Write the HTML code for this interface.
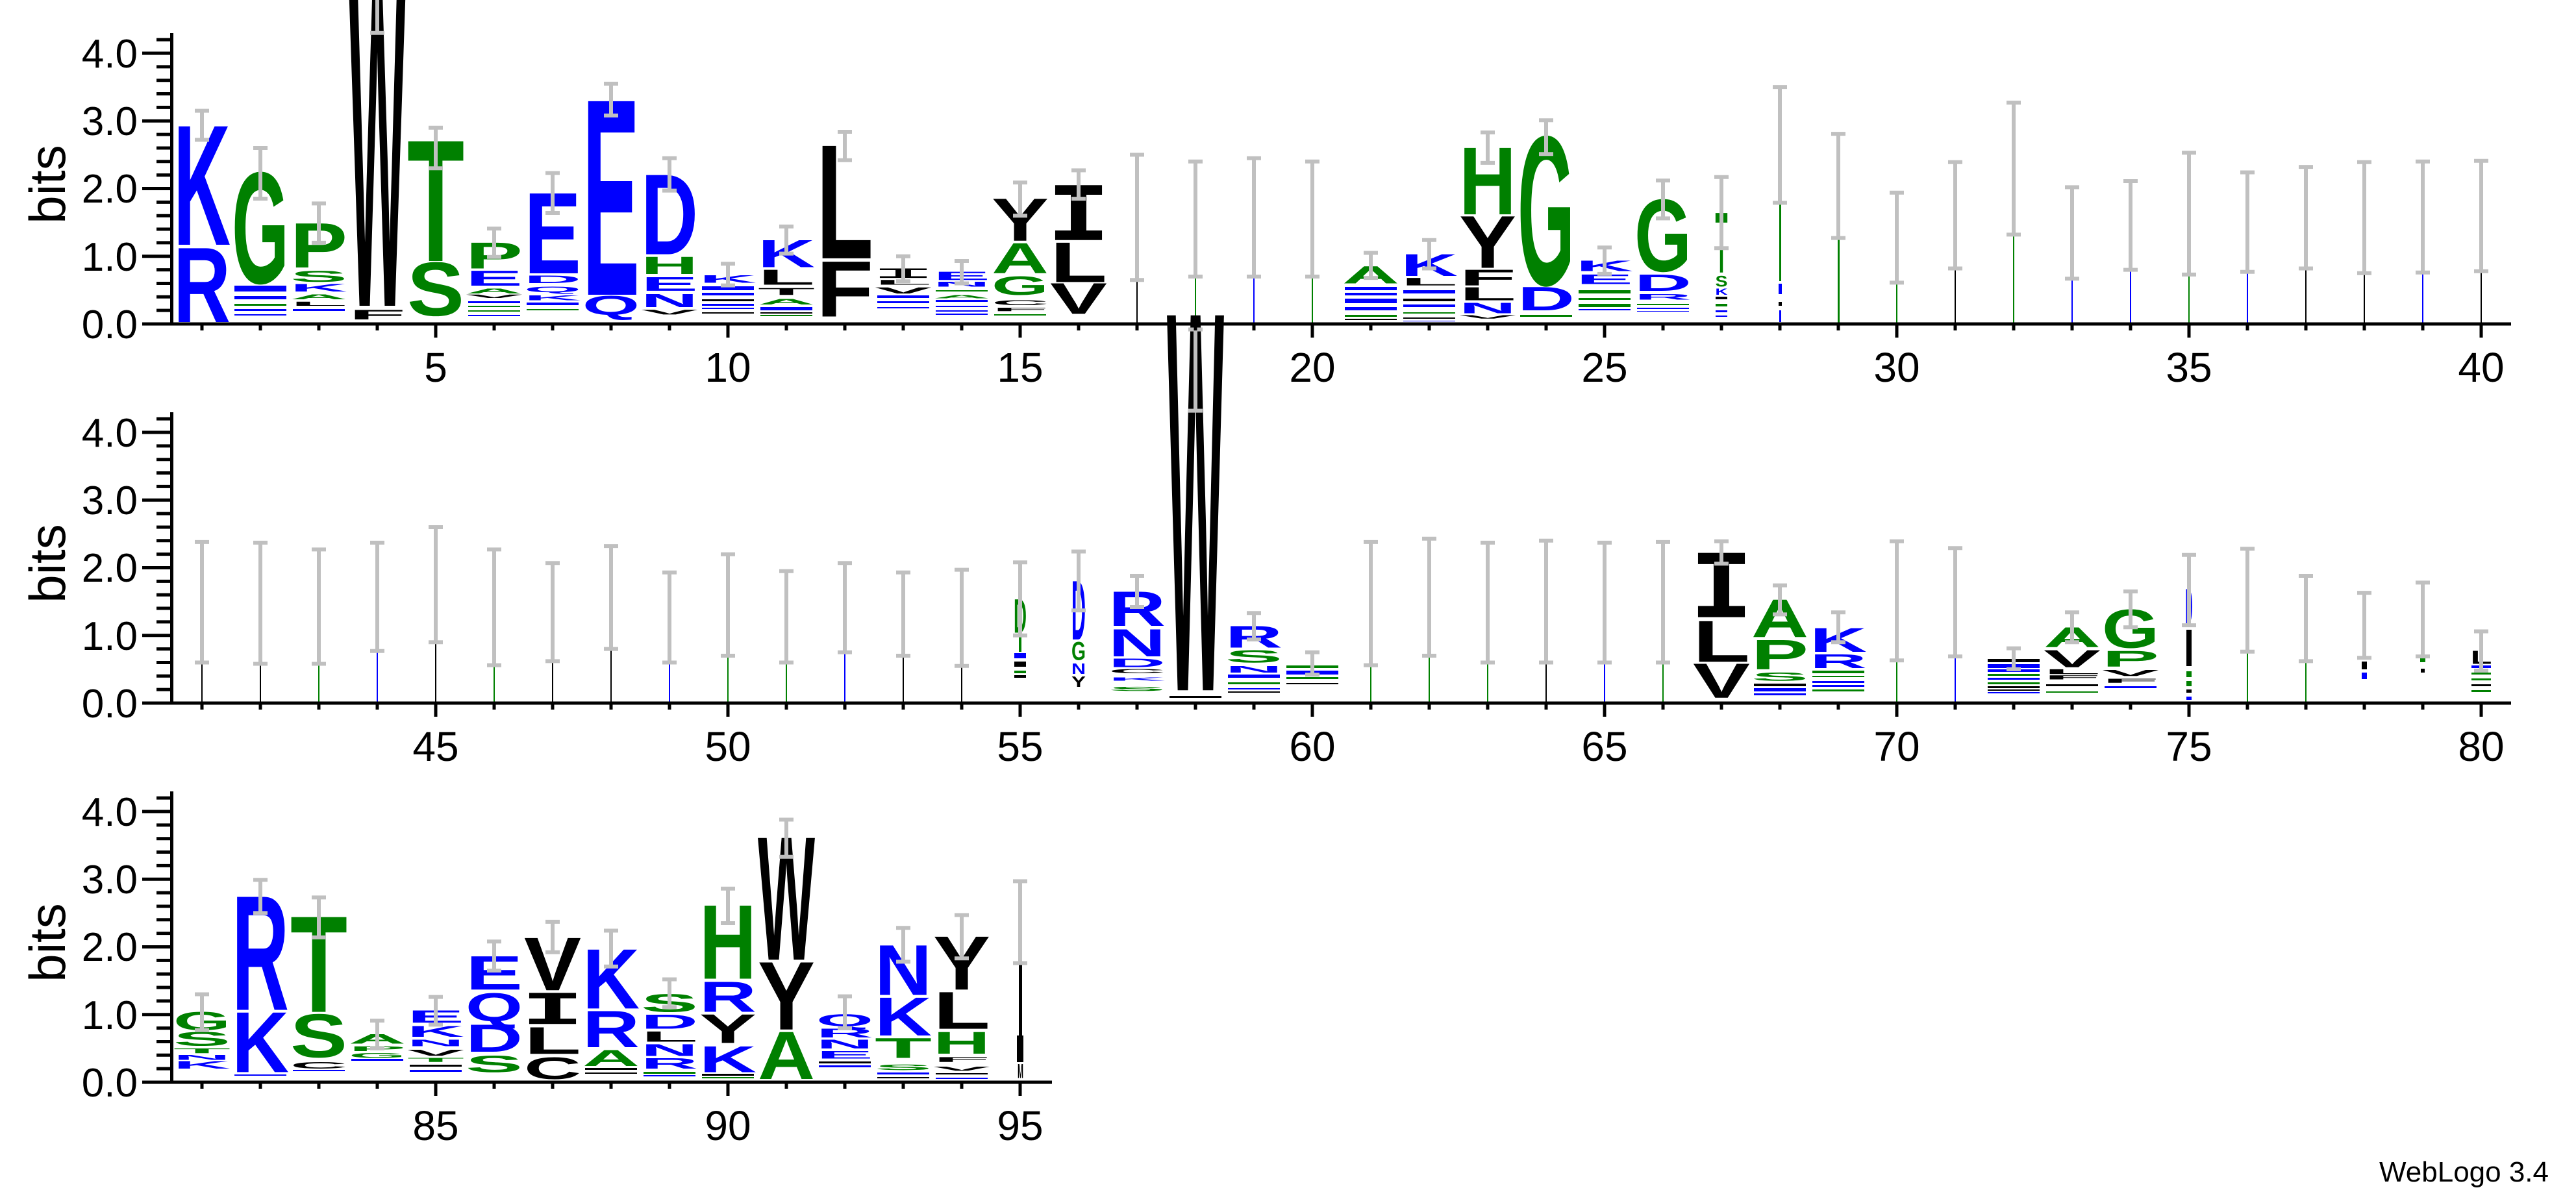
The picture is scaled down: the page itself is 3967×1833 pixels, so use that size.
<!DOCTYPE html>
<html><head><meta charset="utf-8"><style>
html,body{margin:0;padding:0;background:#fff}
svg{display:block}
.L{font-family:"Liberation Sans",sans-serif;font-weight:bold;font-size:100px}
.m{font-family:"DejaVu Sans Mono",monospace;font-weight:bold;font-size:100px}
.b{fill:#0000ff}.g{fill:#008000}.k{fill:#000}
.ax{font-family:"Liberation Sans",sans-serif;fill:#000}
</style></head><body>
<svg width="3967" height="1833" viewBox="0 0 3967 1833" xmlns="http://www.w3.org/2000/svg">
<defs>
<g id="yt"><rect x="262" y="-448" width="5" height="450" fill="#000"/>
<path stroke="#000" stroke-width="5" fill="none" d="M219,0H264M241,-20.85H264M241,-41.7H264M241,-62.55H264M241,-83.4H264M219,-104.25H264M241,-125.1H264M241,-145.95H264M241,-166.8H264M241,-187.65H264M219,-208.5H264M241,-229.35H264M241,-250.2H264M241,-271.05H264M241,-291.9H264M219,-312.75H264M241,-333.6H264M241,-354.45H264M241,-375.3H264M241,-396.15H264M219,-417H264M241,-437.85H264"/></g>
<path id="xt40" stroke="#000" stroke-width="5" fill="none" d="M311,0v10M401,0v10M491,0v10M581,0v10M671,0v21M761,0v10M851,0v10M941,0v10M1031,0v10M1121,0v21M1211,0v10M1301,0v10M1391,0v10M1481,0v10M1571,0v21M1661,0v10M1751,0v10M1841,0v10M1931,0v10M2021,0v21M2111,0v10M2201,0v10M2291,0v10M2381,0v10M2471,0v21M2561,0v10M2651,0v10M2741,0v10M2831,0v10M2921,0v21M3011,0v10M3101,0v10M3191,0v10M3281,0v10M3371,0v21M3461,0v10M3551,0v10M3641,0v10M3731,0v10M3821,0v21"/>
<path id="xt15" stroke="#000" stroke-width="5" fill="none" d="M311,0v10M401,0v10M491,0v10M581,0v10M671,0v21M761,0v10M851,0v10M941,0v10M1031,0v10M1121,0v21M1211,0v10M1301,0v10M1391,0v10M1481,0v10M1571,0v21"/>
</defs>

<!-- thin lines for low-info columns -->
<g>
<rect x="1750" y="342" width="2" height="157" fill="#000"/>
<rect x="1840" y="353" width="2" height="146" fill="#008000"/>
<rect x="1930" y="342" width="2" height="157" fill="#00f"/>
<rect x="2020" y="353" width="2" height="146" fill="#008000"/>
<rect x="2740" y="223" width="3" height="90" fill="#000"/>
<rect x="2740" y="313" width="3" height="120" fill="#008000"/>
<rect x="2739" y="437" width="5" height="16" fill="#00f"/>
<rect x="2739" y="465" width="5" height="6" fill="#000"/>
<rect x="2740" y="478" width="3" height="18" fill="#00f"/>
<rect x="2830" y="287" width="3" height="80" fill="#00f"/>
<rect x="2830" y="367" width="3" height="130" fill="#008000"/>
<rect x="2920" y="367" width="2" height="132" fill="#008000"/>
<rect x="3010" y="353" width="2" height="146" fill="#000"/>
<rect x="3100" y="259" width="2" height="240" fill="#008000"/>
<rect x="3190" y="395" width="2" height="104" fill="#00f"/>
<rect x="3280" y="347" width="2" height="152" fill="#00f"/>
<rect x="3370" y="363" width="2" height="136" fill="#008000"/>
<rect x="3460" y="379" width="2" height="120" fill="#00f"/>
<rect x="3550" y="332" width="2" height="167" fill="#000"/>
<rect x="3640" y="342" width="2" height="157" fill="#000"/>
<rect x="3730" y="332" width="2" height="167" fill="#00f"/>
<rect x="3820" y="332" width="2" height="167" fill="#000"/>
<rect x="310" y="927" width="2" height="156" fill="#000"/>
<rect x="400" y="927" width="2" height="156" fill="#000"/>
<rect x="490" y="927" width="2" height="156" fill="#008000"/>
<rect x="580" y="927" width="2" height="156" fill="#00f"/>
<rect x="670" y="927" width="2" height="156" fill="#000"/>
<rect x="760" y="927" width="2" height="156" fill="#008000"/>
<rect x="850" y="927" width="2" height="156" fill="#000"/>
<rect x="940" y="927" width="2" height="156" fill="#000"/>
<rect x="1030" y="927" width="2" height="156" fill="#00f"/>
<rect x="1120" y="927" width="2" height="156" fill="#008000"/>
<rect x="1210" y="927" width="2" height="156" fill="#008000"/>
<rect x="1300" y="927" width="2" height="156" fill="#00f"/>
<rect x="1390" y="927" width="2" height="156" fill="#000"/>
<rect x="1480" y="927" width="2" height="156" fill="#000"/>
<rect x="2110" y="927" width="2" height="156" fill="#008000"/>
<rect x="2200" y="927" width="2" height="156" fill="#008000"/>
<rect x="2290" y="927" width="2" height="156" fill="#008000"/>
<rect x="2380" y="927" width="2" height="156" fill="#000"/>
<rect x="2470" y="927" width="2" height="156" fill="#00f"/>
<rect x="2560" y="927" width="2" height="156" fill="#008000"/>
<rect x="2920" y="927" width="2" height="156" fill="#008000"/>
<rect x="3010" y="927" width="2" height="156" fill="#00f"/>
<rect x="3460" y="927" width="2" height="156" fill="#008000"/>
<rect x="3550" y="927" width="2" height="156" fill="#008000"/>
</g>

<!-- stripes (tiny letters) -->
<g>
<rect x="361" y="440" width="80" height="9" fill="#00f"/><rect x="361" y="456" width="80" height="5" fill="#00f"/><rect x="361" y="468" width="80" height="3" fill="#008000"/><rect x="361" y="476" width="80" height="3" fill="#00f"/><rect x="361" y="484" width="80" height="2" fill="#00f"/>
<rect x="451" y="476" width="80" height="3" fill="#00f"/>
<rect x="721" y="464" width="80" height="3" fill="#00f"/><rect x="721" y="471" width="80" height="2" fill="#008000"/><rect x="721" y="478" width="80" height="2" fill="#008000"/><rect x="721" y="485" width="80" height="2" fill="#00f"/>
<rect x="811" y="466" width="80" height="4" fill="#00f"/><rect x="811" y="476" width="80" height="2" fill="#008000"/>
<rect x="1081" y="441" width="80" height="6" fill="#00f"/><rect x="1081" y="451" width="80" height="4" fill="#00f"/><rect x="1081" y="461" width="80" height="3" fill="#000"/><rect x="1081" y="468" width="80" height="3" fill="#00f"/><rect x="1081" y="474" width="80" height="2" fill="#00f"/><rect x="1081" y="481" width="80" height="2" fill="#000"/>
<rect x="1171" y="473" width="80" height="5" fill="#00f"/><rect x="1171" y="481" width="80" height="2" fill="#000"/><rect x="1171" y="485" width="80" height="2" fill="#008000"/>
<rect x="1351" y="455" width="80" height="4" fill="#00f"/><rect x="1351" y="464" width="80" height="3" fill="#00f"/><rect x="1351" y="473" width="80" height="2" fill="#00f"/>
<rect x="1441" y="447" width="80" height="2" fill="#008000"/><rect x="1441" y="462" width="80" height="3" fill="#00f"/><rect x="1441" y="471" width="80" height="2" fill="#00f"/><rect x="1441" y="478" width="80" height="2" fill="#00f"/><rect x="1441" y="483" width="80" height="2" fill="#00f"/>
<rect x="1531" y="484" width="80" height="2" fill="#008000"/>
<rect x="2071" y="442" width="80" height="5" fill="#00f"/><rect x="2071" y="451" width="80" height="4" fill="#00f"/><rect x="2071" y="460" width="80" height="7" fill="#00f"/><rect x="2071" y="473" width="80" height="5" fill="#00f"/><rect x="2071" y="485" width="80" height="3" fill="#008000"/><rect x="2071" y="491" width="80" height="2" fill="#000"/>
<rect x="2161" y="447" width="80" height="5" fill="#00f"/><rect x="2161" y="460" width="80" height="4" fill="#000"/><rect x="2161" y="469" width="80" height="4" fill="#00f"/><rect x="2161" y="481" width="80" height="2" fill="#008000"/><rect x="2161" y="489" width="80" height="2" fill="#000"/><rect x="2161" y="494" width="80" height="1" fill="#00f"/>
<rect x="2341" y="485" width="80" height="3" fill="#008000"/>
<rect x="2431" y="447" width="80" height="5" fill="#008000"/><rect x="2431" y="459" width="80" height="3" fill="#008000"/><rect x="2431" y="468" width="80" height="5" fill="#008000"/><rect x="2431" y="476" width="80" height="2" fill="#00f"/>
<rect x="2521" y="468" width="80" height="2" fill="#008000"/><rect x="2521" y="474" width="80" height="2" fill="#00f"/><rect x="2521" y="479" width="80" height="1" fill="#00f"/>
<rect x="2642" y="457" width="18" height="4" fill="#000"/><rect x="2642" y="468" width="18" height="4" fill="#008000"/><rect x="2642" y="478" width="18" height="3" fill="#00f"/><rect x="2642" y="486" width="18" height="2" fill="#00f"/>

<rect x="1569" y="975" width="4" height="29" fill="#008000"/><rect x="1562" y="1006" width="18" height="8" fill="#00f"/><rect x="1562" y="1019" width="18" height="8" fill="#000"/><rect x="1562" y="1033" width="18" height="4" fill="#008000"/><rect x="1562" y="1040" width="18" height="4" fill="#000"/>
<rect x="1801" y="1072" width="80" height="3" fill="#000"/>
<rect x="1891" y="1039" width="80" height="5" fill="#00f"/><rect x="1891" y="1051" width="80" height="3" fill="#008000"/><rect x="1891" y="1060" width="80" height="2" fill="#00f"/><rect x="1891" y="1065" width="80" height="2" fill="#000"/>
<rect x="1981" y="1025" width="80" height="4" fill="#008000"/><rect x="1981" y="1033" width="80" height="6" fill="#00f"/><rect x="1981" y="1043" width="80" height="3" fill="#008000"/><rect x="1981" y="1052" width="80" height="2" fill="#000"/>
<rect x="2701" y="1053" width="80" height="4" fill="#000"/><rect x="2701" y="1060" width="80" height="5" fill="#00f"/><rect x="2701" y="1068" width="80" height="3" fill="#00f"/>
<rect x="2791" y="1033" width="80" height="4" fill="#008000"/><rect x="2791" y="1041" width="80" height="2" fill="#008000"/><rect x="2791" y="1049" width="80" height="3" fill="#00f"/><rect x="2791" y="1055" width="80" height="3" fill="#00f"/><rect x="2791" y="1062" width="80" height="3" fill="#008000"/>
<rect x="3061" y="1015" width="80" height="5" fill="#000"/><rect x="3061" y="1023" width="80" height="6" fill="#00f"/><rect x="3061" y="1031" width="80" height="4" fill="#00f"/><rect x="3061" y="1038" width="80" height="3" fill="#008000"/><rect x="3061" y="1044" width="80" height="3" fill="#00f"/><rect x="3061" y="1051" width="80" height="3" fill="#008000"/><rect x="3061" y="1057" width="80" height="3" fill="#000"/><rect x="3061" y="1062" width="80" height="2" fill="#000"/><rect x="3061" y="1066" width="80" height="2" fill="#00f"/>
<rect x="3151" y="1054" width="80" height="3" fill="#000"/><rect x="3151" y="1065" width="80" height="2" fill="#008000"/>
<rect x="3241" y="1057" width="80" height="3" fill="#00f"/>
<rect x="3367" y="970" width="8" height="56" fill="#000"/><rect x="3367" y="1034" width="8" height="9" fill="#008000"/><rect x="3367" y="1049" width="8" height="8" fill="#008000"/><rect x="3367" y="1062" width="8" height="5" fill="#000"/><rect x="3367" y="1073" width="8" height="5" fill="#00f"/>
<rect x="3639" y="963" width="4" height="26" fill="#008000"/><rect x="3637" y="1019" width="8" height="12" fill="#000"/><rect x="3637" y="1036" width="8" height="10" fill="#00f"/>
<rect x="3728" y="953" width="6" height="44" fill="#000"/><rect x="3727" y="1010" width="8" height="10" fill="#008000"/><rect x="3728" y="1030" width="6" height="6" fill="#000"/>
<rect x="3806" y="1025" width="30" height="4" fill="#00f"/><rect x="3806" y="1036" width="30" height="3" fill="#008000"/><rect x="3806" y="1045" width="30" height="3" fill="#008000"/><rect x="3806" y="1054" width="30" height="3" fill="#000"/><rect x="3806" y="1063" width="30" height="3" fill="#008000"/>

<rect x="361" y="1655" width="80" height="2" fill="#00f"/>
<rect x="451" y="1648" width="80" height="2" fill="#00f"/>
<rect x="541" y="1631" width="80" height="3" fill="#00f"/>
<rect x="631" y="1640" width="80" height="3" fill="#000"/><rect x="631" y="1648" width="80" height="3" fill="#00f"/>
<rect x="901" y="1645" width="80" height="3" fill="#000"/><rect x="901" y="1652" width="80" height="2" fill="#000"/>
<rect x="991" y="1651" width="80" height="3" fill="#008000"/><rect x="991" y="1656" width="80" height="2" fill="#00f"/>
<rect x="1081" y="1654" width="80" height="3" fill="#000"/><rect x="1081" y="1659" width="80" height="2" fill="#008000"/>
<rect x="1261" y="1635" width="80" height="3" fill="#000"/><rect x="1261" y="1641" width="80" height="3" fill="#00f"/>
<rect x="1351" y="1652" width="80" height="3" fill="#00f"/><rect x="1351" y="1659" width="80" height="2" fill="#000"/>
<rect x="1441" y="1653" width="80" height="2" fill="#000"/><rect x="1441" y="1660" width="80" height="2" fill="#00f"/>
<rect x="1569" y="1399" width="5" height="196" fill="#000"/><rect x="1566" y="1595" width="10" height="41" fill="#000"/>
</g>

<!-- letters row 1 -->
<g>
<text class="L b" transform="translate(267 496) scale(1 1.651)" textLength="88" lengthAdjust="spacingAndGlyphs">R</text>
<text class="L b" transform="translate(267 377) scale(1 2.651)" textLength="88" lengthAdjust="spacingAndGlyphs">K</text>
<text class="L g" transform="translate(357 436) scale(1 2.454)" textLength="88" lengthAdjust="spacingAndGlyphs">G</text>
<text class="L g" transform="translate(447 412) scale(1 0.985)" textLength="88" lengthAdjust="spacingAndGlyphs">P</text>
<text class="L g" transform="translate(447 434) scale(1 0.242)" textLength="88" lengthAdjust="spacingAndGlyphs">S</text>
<text class="L b" transform="translate(447 449) scale(1 0.167)" textLength="88" lengthAdjust="spacingAndGlyphs">K</text>
<text class="L g" transform="translate(447 461) scale(1 0.106)" textLength="88" lengthAdjust="spacingAndGlyphs">A</text>
<text class="L k" transform="translate(447 471) scale(1 0.091)" textLength="88" lengthAdjust="spacingAndGlyphs">L</text>
<text class="L k" transform="translate(537 471) scale(1 7.166)" textLength="88" lengthAdjust="spacingAndGlyphs">W</text>
<text class="L k" transform="translate(537 492) scale(1 0.212)" textLength="88" lengthAdjust="spacingAndGlyphs">F</text>
<text class="L g" transform="translate(627 486) scale(1 1.18)" textLength="88" lengthAdjust="spacingAndGlyphs">S</text>
<text class="L g" transform="translate(627 402) scale(1 2.68)" textLength="88" lengthAdjust="spacingAndGlyphs">T</text>
<text class="L g" transform="translate(717 413.5) scale(1 0.576)" textLength="88" lengthAdjust="spacingAndGlyphs">P</text>
<text class="L b" transform="translate(717 440) scale(1 0.333)" textLength="88" lengthAdjust="spacingAndGlyphs">E</text>
<text class="L g" transform="translate(717 452) scale(1 0.106)" textLength="88" lengthAdjust="spacingAndGlyphs">A</text>
<text class="L k" transform="translate(717 459) scale(1 0.076)" textLength="88" lengthAdjust="spacingAndGlyphs">V</text>
<text class="L b" transform="translate(807 421) scale(1 1.788)" textLength="88" lengthAdjust="spacingAndGlyphs">E</text>
<text class="L b" transform="translate(807 436) scale(1 0.167)" textLength="88" lengthAdjust="spacingAndGlyphs">D</text>
<text class="L b" transform="translate(807 450) scale(1 0.121)" textLength="88" lengthAdjust="spacingAndGlyphs">Q</text>
<text class="L b" transform="translate(807 462.5) scale(1 0.106)" textLength="88" lengthAdjust="spacingAndGlyphs">K</text>
<text class="L b" transform="translate(897 454) scale(1 4.333)" textLength="88" lengthAdjust="spacingAndGlyphs">E</text>
<text class="L b" transform="translate(897 485) scale(1 0.42)" textLength="88" lengthAdjust="spacingAndGlyphs">Q</text>
<text class="L b" transform="translate(987 391.6) scale(1 1.773)" textLength="88" lengthAdjust="spacingAndGlyphs">D</text>
<text class="L g" transform="translate(987 421.9) scale(1 0.379)" textLength="88" lengthAdjust="spacingAndGlyphs">H</text>
<text class="L b" transform="translate(987 447.9) scale(1 0.303)" textLength="88" lengthAdjust="spacingAndGlyphs">E</text>
<text class="L b" transform="translate(987 472.9) scale(1 0.288)" textLength="88" lengthAdjust="spacingAndGlyphs">N</text>
<text class="L k" transform="translate(987 484.4) scale(1 0.106)" textLength="88" lengthAdjust="spacingAndGlyphs">V</text>
<text class="L b" transform="translate(1077 435.4) scale(1 0.167)" textLength="88" lengthAdjust="spacingAndGlyphs">K</text>
<text class="L b" transform="translate(1167 411.4) scale(1 0.606)" textLength="88" lengthAdjust="spacingAndGlyphs">K</text>
<text class="L k" transform="translate(1167 438.5) scale(1 0.333)" textLength="88" lengthAdjust="spacingAndGlyphs">L</text>
<text class="L k" transform="translate(1167 454.2) scale(1 0.152)" textLength="88" lengthAdjust="spacingAndGlyphs">T</text>
<text class="L g" transform="translate(1167 468.8) scale(1 0.121)" textLength="88" lengthAdjust="spacingAndGlyphs">A</text>
<text class="L k" transform="translate(1257 397.9) scale(1 2.515)" textLength="88" lengthAdjust="spacingAndGlyphs">L</text>
<text class="L k" transform="translate(1257 487.5) scale(1 1.227)" textLength="88" lengthAdjust="spacingAndGlyphs">F</text>
<text class="m k" transform="translate(1341 428.1) scale(1 0.2)" textLength="100" lengthAdjust="spacingAndGlyphs">I</text>
<text class="L k" transform="translate(1347 438.5) scale(1 0.106)" textLength="88" lengthAdjust="spacingAndGlyphs">L</text>
<text class="L k" transform="translate(1347 452.1) scale(1 0.136)" textLength="88" lengthAdjust="spacingAndGlyphs">V</text>
<text class="L b" transform="translate(1437 431.2) scale(1 0.182)" textLength="88" lengthAdjust="spacingAndGlyphs">E</text>
<text class="L b" transform="translate(1437 441.7) scale(1 0.106)" textLength="88" lengthAdjust="spacingAndGlyphs">N</text>
<text class="L g" transform="translate(1437 459.4) scale(1 0.076)" textLength="88" lengthAdjust="spacingAndGlyphs">A</text>
<text class="L k" transform="translate(1527 370.8) scale(1 0.939)" textLength="88" lengthAdjust="spacingAndGlyphs">Y</text>
<text class="L g" transform="translate(1527 420.8) scale(1 0.667)" textLength="88" lengthAdjust="spacingAndGlyphs">A</text>
<text class="L g" transform="translate(1527 454.2) scale(1 0.409)" textLength="88" lengthAdjust="spacingAndGlyphs">G</text>
<text class="L k" transform="translate(1527 469.8) scale(1 0.106)" textLength="88" lengthAdjust="spacingAndGlyphs">C</text>
<text class="L k" transform="translate(1527 479.2) scale(1 0.076)" textLength="88" lengthAdjust="spacingAndGlyphs">F</text>
<text class="L k" transform="translate(1617 483.4) scale(1 0.682)" textLength="88" lengthAdjust="spacingAndGlyphs">V</text>
<text class="L k" transform="translate(1617 434.4) scale(1 0.879)" textLength="88" lengthAdjust="spacingAndGlyphs">L</text>
<text class="m k" transform="translate(1611 369.7) scale(1 1.158)" textLength="100" lengthAdjust="spacingAndGlyphs">I</text>
<text class="L g" transform="translate(2067 436.4) scale(1 0.379)" textLength="88" lengthAdjust="spacingAndGlyphs">A</text>
<text class="L b" transform="translate(2157 425) scale(1 0.485)" textLength="88" lengthAdjust="spacingAndGlyphs">K</text>
<text class="L k" transform="translate(2157 439.6) scale(1 0.167)" textLength="88" lengthAdjust="spacingAndGlyphs">L</text>
<text class="L g" transform="translate(2247 330.1) scale(1 1.485)" textLength="88" lengthAdjust="spacingAndGlyphs">H</text>
<text class="L k" transform="translate(2247 412.5) scale(1 1.151)" textLength="88" lengthAdjust="spacingAndGlyphs">Y</text>
<text class="L k" transform="translate(2247 439.6) scale(1 0.348)" textLength="88" lengthAdjust="spacingAndGlyphs">F</text>
<text class="L k" transform="translate(2247 462.5) scale(1 0.288)" textLength="88" lengthAdjust="spacingAndGlyphs">L</text>
<text class="L b" transform="translate(2247 482.3) scale(1 0.227)" textLength="88" lengthAdjust="spacingAndGlyphs">N</text>
<text class="L k" transform="translate(2247 490.7) scale(1 0.076)" textLength="88" lengthAdjust="spacingAndGlyphs">V</text>
<text class="L g" transform="translate(2337 438.5) scale(1 3.288)" textLength="88" lengthAdjust="spacingAndGlyphs">G</text>
<text class="L b" transform="translate(2337 478.2) scale(1 0.515)" textLength="88" lengthAdjust="spacingAndGlyphs">D</text>
<text class="L b" transform="translate(2427 417.7) scale(1 0.227)" textLength="88" lengthAdjust="spacingAndGlyphs">K</text>
<text class="L b" transform="translate(2427 437.5) scale(1 0.212)" textLength="88" lengthAdjust="spacingAndGlyphs">E</text>
<text class="L g" transform="translate(2517 417.7) scale(1 1.591)" textLength="88" lengthAdjust="spacingAndGlyphs">G</text>
<text class="L b" transform="translate(2517 447.9) scale(1 0.364)" textLength="88" lengthAdjust="spacingAndGlyphs">D</text>
<text class="L b" transform="translate(2517 461.5) scale(1 0.121)" textLength="88" lengthAdjust="spacingAndGlyphs">R</text>
<text class="L g" transform="translate(2641.5 419.8) scale(1 1.333)" textLength="19" lengthAdjust="spacingAndGlyphs">T</text>
<text class="L g" transform="translate(2641.5 441.7) scale(1 0.242)" textLength="19" lengthAdjust="spacingAndGlyphs">S</text>
<text class="L b" transform="translate(2641.5 454.2) scale(1 0.136)" textLength="19" lengthAdjust="spacingAndGlyphs">K</text>
</g>

<!-- letters row 2 -->
<g>
<text class="L g" transform="translate(1561 974.6) scale(1 0.742)" textLength="20" lengthAdjust="spacingAndGlyphs">D</text>
<text class="L b" transform="translate(1650 985) scale(1 1.303)" textLength="22" lengthAdjust="spacingAndGlyphs">D</text>
<text class="L g" transform="translate(1650 1016.3) scale(1 0.394)" textLength="22" lengthAdjust="spacingAndGlyphs">G</text>
<text class="L b" transform="translate(1650 1038.2) scale(1 0.227)" textLength="22" lengthAdjust="spacingAndGlyphs">N</text>
<text class="L k" transform="translate(1650 1058) scale(1 0.227)" textLength="22" lengthAdjust="spacingAndGlyphs">Y</text>
<text class="L b" transform="translate(1707 964.2) scale(1 0.758)" textLength="88" lengthAdjust="spacingAndGlyphs">R</text>
<text class="L b" transform="translate(1707 1011.1) scale(1 0.606)" textLength="88" lengthAdjust="spacingAndGlyphs">N</text>
<text class="L b" transform="translate(1707 1027.7) scale(1 0.182)" textLength="88" lengthAdjust="spacingAndGlyphs">D</text>
<text class="L k" transform="translate(1707 1037.1) scale(1 0.091)" textLength="88" lengthAdjust="spacingAndGlyphs">C</text>
<text class="L b" transform="translate(1707 1048.6) scale(1 0.076)" textLength="88" lengthAdjust="spacingAndGlyphs">K</text>
<text class="L g" transform="translate(1707 1064.2) scale(1 0.091)" textLength="88" lengthAdjust="spacingAndGlyphs">S</text>
<text class="L k" transform="translate(1797 1063.2) scale(1 8.393)" textLength="88" lengthAdjust="spacingAndGlyphs">W</text>
<text class="L b" transform="translate(1887 997.5) scale(1 0.485)" textLength="88" lengthAdjust="spacingAndGlyphs">R</text>
<text class="L g" transform="translate(1887 1020.5) scale(1 0.273)" textLength="88" lengthAdjust="spacingAndGlyphs">S</text>
<text class="L b" transform="translate(1887 1036.1) scale(1 0.152)" textLength="88" lengthAdjust="spacingAndGlyphs">N</text>
<text class="L k" transform="translate(2607 1074.7) scale(1 0.758)" textLength="88" lengthAdjust="spacingAndGlyphs">V</text>
<text class="L k" transform="translate(2607 1019.4) scale(1 0.909)" textLength="88" lengthAdjust="spacingAndGlyphs">L</text>
<text class="m k" transform="translate(2601 950.6) scale(1 1.358)" textLength="100" lengthAdjust="spacingAndGlyphs">I</text>
<text class="L g" transform="translate(2697 980.8) scale(1 0.833)" textLength="88" lengthAdjust="spacingAndGlyphs">A</text>
<text class="L g" transform="translate(2697 1030.9) scale(1 0.652)" textLength="88" lengthAdjust="spacingAndGlyphs">P</text>
<text class="L g" transform="translate(2697 1048.6) scale(1 0.182)" textLength="88" lengthAdjust="spacingAndGlyphs">S</text>
<text class="L b" transform="translate(2787 1003.8) scale(1 0.53)" textLength="88" lengthAdjust="spacingAndGlyphs">K</text>
<text class="L b" transform="translate(2787 1028.8) scale(1 0.303)" textLength="88" lengthAdjust="spacingAndGlyphs">R</text>
<text class="L g" transform="translate(3147 996.5) scale(1 0.439)" textLength="88" lengthAdjust="spacingAndGlyphs">A</text>
<text class="L k" transform="translate(3147 1027.7) scale(1 0.379)" textLength="88" lengthAdjust="spacingAndGlyphs">V</text>
<text class="L k" transform="translate(3147 1038.2) scale(1 0.106)" textLength="88" lengthAdjust="spacingAndGlyphs">L</text>
<text class="L k" transform="translate(3147 1046.5) scale(1 0.091)" textLength="88" lengthAdjust="spacingAndGlyphs">F</text>
<text class="L g" transform="translate(3237 997.5) scale(1 0.848)" textLength="88" lengthAdjust="spacingAndGlyphs">G</text>
<text class="L g" transform="translate(3237 1026.7) scale(1 0.348)" textLength="88" lengthAdjust="spacingAndGlyphs">P</text>
<text class="L k" transform="translate(3237 1041.3) scale(1 0.136)" textLength="88" lengthAdjust="spacingAndGlyphs">V</text>
<text class="L k" transform="translate(3237 1051.7) scale(1 0.091)" textLength="88" lengthAdjust="spacingAndGlyphs">F</text>
<text class="L b" transform="translate(3365.5 960) scale(1 0.758)" textLength="11" lengthAdjust="spacingAndGlyphs">D</text>
<text class="L k" transform="translate(3804.5 1022.5) scale(1 0.288)" textLength="33" lengthAdjust="spacingAndGlyphs">L</text>
</g>

<!-- letters row 3 -->
<g>
<text class="L g" transform="translate(267 1586.7) scale(1 0.394)" textLength="88" lengthAdjust="spacingAndGlyphs">G</text>
<text class="L g" transform="translate(267 1610.7) scale(1 0.303)" textLength="88" lengthAdjust="spacingAndGlyphs">S</text>
<text class="L g" transform="translate(267 1622.2) scale(1 0.106)" textLength="88" lengthAdjust="spacingAndGlyphs">T</text>
<text class="L b" transform="translate(267 1632.6) scale(1 0.106)" textLength="88" lengthAdjust="spacingAndGlyphs">N</text>
<text class="L b" transform="translate(267 1646.1) scale(1 0.167)" textLength="88" lengthAdjust="spacingAndGlyphs">K</text>
<text class="L b" transform="translate(357 1651.4) scale(1 1.333)" textLength="88" lengthAdjust="spacingAndGlyphs">K</text>
<text class="L b" transform="translate(357 1555.5) scale(1 2.53)" textLength="88" lengthAdjust="spacingAndGlyphs">R</text>
<text class="L g" transform="translate(447 1558.6) scale(1 2.121)" textLength="88" lengthAdjust="spacingAndGlyphs">T</text>
<text class="L g" transform="translate(447 1628.4) scale(1 0.955)" textLength="88" lengthAdjust="spacingAndGlyphs">S</text>
<text class="L k" transform="translate(447 1646.1) scale(1 0.152)" textLength="88" lengthAdjust="spacingAndGlyphs">C</text>
<text class="L g" transform="translate(537 1607.6) scale(1 0.212)" textLength="88" lengthAdjust="spacingAndGlyphs">A</text>
<text class="L g" transform="translate(537 1619) scale(1 0.106)" textLength="88" lengthAdjust="spacingAndGlyphs">P</text>
<text class="L g" transform="translate(537 1629.5) scale(1 0.106)" textLength="88" lengthAdjust="spacingAndGlyphs">G</text>
<text class="L b" transform="translate(627 1575.3) scale(1 0.273)" textLength="88" lengthAdjust="spacingAndGlyphs">E</text>
<text class="L b" transform="translate(627 1597.2) scale(1 0.242)" textLength="88" lengthAdjust="spacingAndGlyphs">K</text>
<text class="L b" transform="translate(627 1611.7) scale(1 0.152)" textLength="88" lengthAdjust="spacingAndGlyphs">N</text>
<text class="L k" transform="translate(627 1626.3) scale(1 0.136)" textLength="88" lengthAdjust="spacingAndGlyphs">V</text>
<text class="L g" transform="translate(627 1635.7) scale(1 0.091)" textLength="88" lengthAdjust="spacingAndGlyphs">T</text>
<text class="L b" transform="translate(717 1524.2) scale(1 0.742)" textLength="88" lengthAdjust="spacingAndGlyphs">E</text>
<text class="L b" transform="translate(717 1573.2) scale(1 0.62)" textLength="88" lengthAdjust="spacingAndGlyphs">Q</text>
<text class="L b" transform="translate(717 1620.1) scale(1 0.606)" textLength="88" lengthAdjust="spacingAndGlyphs">D</text>
<text class="L g" transform="translate(717 1651.4) scale(1 0.364)" textLength="88" lengthAdjust="spacingAndGlyphs">S</text>
<text class="L k" transform="translate(807 1525.2) scale(1 1.167)" textLength="88" lengthAdjust="spacingAndGlyphs">V</text>
<text class="m k" transform="translate(801 1577.3) scale(1 0.658)" textLength="100" lengthAdjust="spacingAndGlyphs">I</text>
<text class="L k" transform="translate(807 1623.2) scale(1 0.591)" textLength="88" lengthAdjust="spacingAndGlyphs">L</text>
<text class="L k" transform="translate(807 1661.8) scale(1 0.485)" textLength="88" lengthAdjust="spacingAndGlyphs">C</text>
<text class="L b" transform="translate(897 1553.4) scale(1 1.318)" textLength="88" lengthAdjust="spacingAndGlyphs">K</text>
<text class="L b" transform="translate(897 1612.8) scale(1 0.803)" textLength="88" lengthAdjust="spacingAndGlyphs">R</text>
<text class="L g" transform="translate(897 1642) scale(1 0.348)" textLength="88" lengthAdjust="spacingAndGlyphs">A</text>
<text class="L g" transform="translate(987 1558.6) scale(1 0.394)" textLength="88" lengthAdjust="spacingAndGlyphs">S</text>
<text class="L b" transform="translate(987 1584.7) scale(1 0.318)" textLength="88" lengthAdjust="spacingAndGlyphs">D</text>
<text class="L k" transform="translate(987 1604.5) scale(1 0.227)" textLength="88" lengthAdjust="spacingAndGlyphs">L</text>
<text class="L b" transform="translate(987 1626.3) scale(1 0.258)" textLength="88" lengthAdjust="spacingAndGlyphs">N</text>
<text class="L b" transform="translate(987 1646.1) scale(1 0.227)" textLength="88" lengthAdjust="spacingAndGlyphs">R</text>
<text class="L g" transform="translate(1077 1507.5) scale(1 1.636)" textLength="88" lengthAdjust="spacingAndGlyphs">H</text>
<text class="L b" transform="translate(1077 1558.6) scale(1 0.667)" textLength="88" lengthAdjust="spacingAndGlyphs">R</text>
<text class="L k" transform="translate(1077 1606.5) scale(1 0.636)" textLength="88" lengthAdjust="spacingAndGlyphs">Y</text>
<text class="L b" transform="translate(1077 1651.4) scale(1 0.576)" textLength="88" lengthAdjust="spacingAndGlyphs">K</text>
<text class="L k" transform="translate(1167 1478.3) scale(1 2.727)" textLength="88" lengthAdjust="spacingAndGlyphs">W</text>
<text class="L k" transform="translate(1167 1585.7) scale(1 1.5)" textLength="88" lengthAdjust="spacingAndGlyphs">Y</text>
<text class="L g" transform="translate(1167 1661.8) scale(1 1.045)" textLength="88" lengthAdjust="spacingAndGlyphs">A</text>
<text class="L b" transform="translate(1257 1580.5) scale(1 0.26)" textLength="88" lengthAdjust="spacingAndGlyphs">Q</text>
<text class="L b" transform="translate(1257 1598.2) scale(1 0.197)" textLength="88" lengthAdjust="spacingAndGlyphs">R</text>
<text class="L b" transform="translate(1257 1614.9) scale(1 0.197)" textLength="88" lengthAdjust="spacingAndGlyphs">N</text>
<text class="L b" transform="translate(1257 1630.5) scale(1 0.167)" textLength="88" lengthAdjust="spacingAndGlyphs">E</text>
<text class="L b" transform="translate(1347 1532.5) scale(1 1.106)" textLength="88" lengthAdjust="spacingAndGlyphs">N</text>
<text class="L b" transform="translate(1347 1595.1) scale(1 0.848)" textLength="88" lengthAdjust="spacingAndGlyphs">K</text>
<text class="L g" transform="translate(1347 1629.5) scale(1 0.439)" textLength="88" lengthAdjust="spacingAndGlyphs">T</text>
<text class="L g" transform="translate(1347 1648.2) scale(1 0.121)" textLength="88" lengthAdjust="spacingAndGlyphs">S</text>
<text class="L k" transform="translate(1437 1524.2) scale(1 1.182)" textLength="88" lengthAdjust="spacingAndGlyphs">Y</text>
<text class="L k" transform="translate(1437 1584.6) scale(1 0.818)" textLength="88" lengthAdjust="spacingAndGlyphs">L</text>
<text class="L g" transform="translate(1437 1623.2) scale(1 0.485)" textLength="88" lengthAdjust="spacingAndGlyphs">H</text>
<text class="L k" transform="translate(1437 1635.7) scale(1 0.106)" textLength="88" lengthAdjust="spacingAndGlyphs">F</text>
<text class="L k" transform="translate(1437 1649.3) scale(1 0.091)" textLength="88" lengthAdjust="spacingAndGlyphs">V</text>
<text class="L k" transform="translate(1567 1660.7) scale(1 0.318)" textLength="9" lengthAdjust="spacingAndGlyphs">M</text>
</g>

<!-- error bars -->
<path fill="none" stroke="#c0c0c0" stroke-width="6" d="
M311,170.6V215.4M300,170.6h22M300,215.4h22
M401,228V306M390,228h22M390,306h22
M491,313.4V373.9M480,313.4h22M480,373.9h22
M581,-10V50.7M570,50.7h22
M671,196.7V259.2M660,196.7h22M660,259.2h22
M761,352V395.8M750,352h22M750,395.8h22
M851,266.5V328M840,266.5h22M840,328h22
M941,128.9V177.9M930,128.9h22M930,177.9h22
M1031,243.6V293.6M1020,243.6h22M1020,293.6h22
M1121,406.2V439.6M1110,406.2h22M1110,439.6h22
M1211,348.9V390.6M1200,348.9h22M1200,390.6h22
M1301,203V246.7M1290,203h22M1290,246.7h22
M1391,394.8V433.3M1380,394.8h22M1380,433.3h22
M1481,402V436.5M1470,402h22M1470,436.5h22
M1571,281.1V332.2M1560,281.1h22M1560,332.2h22
M1661,262.4V306.1M1650,262.4h22M1650,306.1h22
M1751,238.4V431.2M1740,238.4h22M1740,431.2h22
M1841,248.8V426M1830,248.8h22M1830,426h22
M1931,243.6V426M1920,243.6h22M1920,426h22
M2021,248.8V426M2010,248.8h22M2010,426h22
M2111,389.5V428.1M2100,389.5h22M2100,428.1h22
M2201,369.7V413.5M2190,369.7h22M2190,413.5h22
M2291,204V250.9M2280,204h22M2280,250.9h22
M2381,185.2V237.3M2370,185.2h22M2370,237.3h22
M2471,381.2V421.9M2460,381.2h22M2460,421.9h22
M2561,278V336.4M2550,278h22M2550,336.4h22
M2651,272.8V382.2M2640,272.8h22M2640,382.2h22
M2741,134.1V312.4M2730,134.1h22M2730,312.4h22
M2831,206.1V366.6M2820,206.1h22M2820,366.6h22
M2921,296.8V435.4M2910,296.8h22M2910,435.4h22
M3011,249.8V413.5M3000,249.8h22M3000,413.5h22
M3101,158.1V361.4M3090,158.1h22M3090,361.4h22
M3191,288.4V429.2M3180,288.4h22M3180,429.2h22
M3281,279V415.6M3270,279h22M3270,415.6h22
M3371,235.2V422.9M3360,235.2h22M3360,422.9h22
M3461,265.5V418.7M3450,265.5h22M3450,418.7h22
M3551,257.1V413.5M3540,257.1h22M3540,413.5h22
M3641,249.8V420.8M3630,249.8h22M3630,420.8h22
M3731,248.8V419.8M3720,248.8h22M3720,419.8h22
M3821,247.8V417.7M3810,247.8h22M3810,417.7h22
M311,834.9V1020.5M300,834.9h22M300,1020.5h22
M401,835.9V1022.5M390,835.9h22M390,1022.5h22
M491,846.4V1022.5M480,846.4h22M480,1022.5h22
M581,835.9V1002.7M570,835.9h22M570,1002.7h22
M671,812V989.2M660,812h22M660,989.2h22
M761,846.4V1024.6M750,846.4h22M750,1024.6h22
M851,867.2V1018.4M840,867.2h22M840,1018.4h22
M941,841.1V999.6M930,841.1h22M930,999.6h22
M1031,881.8V1020.5M1020,881.8h22M1020,1020.5h22
M1121,853.7V1010M1110,853.7h22M1110,1010h22
M1211,879.7V1020.5M1200,879.7h22M1200,1020.5h22
M1301,867.2V1004.8M1290,867.2h22M1290,1004.8h22
M1391,881.8V1010M1380,881.8h22M1380,1010h22
M1481,877.6V1025.7M1470,877.6h22M1470,1025.7h22
M1571,866.2V978.8M1560,866.2h22M1560,978.8h22
M1661,849.5V940.2M1650,849.5h22M1650,940.2h22
M1751,887V935M1740,887h22M1740,935h22
M1841,507.5V632.6M1830,507.5h22M1830,632.6h22
M1931,944.3V985M1920,944.3h22M1920,985h22
M2021,1004.8V1039.2M2010,1004.8h22M2010,1039.2h22
M2111,834.9V1024.6M2100,834.9h22M2100,1024.6h22
M2201,829.7V1010M2190,829.7h22M2190,1010h22
M2291,835.9V1020.5M2280,835.9h22M2280,1020.5h22
M2381,832.8V1020.5M2370,832.8h22M2370,1020.5h22
M2471,835.9V1020.5M2460,835.9h22M2460,1020.5h22
M2561,834.9V1020.5M2550,834.9h22M2550,1020.5h22
M2651,833.8V868.2M2640,833.8h22M2640,868.2h22
M2741,901.6V946.4M2730,901.6h22M2730,946.4h22
M2831,943.3V989.2M2820,943.3h22M2820,989.2h22
M2921,833.8V1017.3M2910,833.8h22M2910,1017.3h22
M3011,844.3V1011.1M3000,844.3h22M3000,1011.1h22
M3101,998.6V1030.9M3090,998.6h22M3090,1030.9h22
M3191,943.3V989.2M3180,943.3h22M3180,989.2h22
M3281,911V966.2M3270,911h22M3270,966.2h22
M3371,854.7V963.1M3360,854.7h22M3360,963.1h22
M3461,845.3V1003.8M3450,845.3h22M3450,1003.8h22
M3551,887V1018.4M3540,887h22M3540,1018.4h22
M3641,913.1V1013.2M3630,913.1h22M3630,1013.2h22
M3731,897.4V1011.1M3720,897.4h22M3720,1011.1h22
M3821,972.5V1033M3810,972.5h22M3810,1033h22
M311,1531.5V1586.7M300,1531.5h22M300,1586.7h22
M401,1355.3V1406.4M390,1355.3h22M390,1406.4h22
M491,1382.4V1443.9M480,1382.4h22M480,1443.9h22
M581,1572.1V1614.9M570,1572.1h22M570,1614.9h22
M671,1535.6V1578.4M660,1535.6h22M660,1578.4h22
M761,1450.2V1495M750,1450.2h22M750,1495h22
M851,1419.9V1466.8M840,1419.9h22M840,1466.8h22
M941,1433.5V1488.7M930,1433.5h22M930,1488.7h22
M1031,1508.5V1551.3M1020,1508.5h22M1020,1551.3h22
M1121,1368.8V1422M1110,1368.8h22M1110,1422h22
M1211,1262.5V1319.8M1200,1262.5h22M1200,1319.8h22
M1301,1534.6V1583.6M1290,1534.6h22M1290,1583.6h22
M1391,1429.3V1481.4M1380,1429.3h22M1380,1481.4h22
M1481,1409.5V1476.2M1470,1409.5h22M1470,1476.2h22
M1571,1357.4V1483.5M1560,1357.4h22M1560,1483.5h22"/>

<!-- axes -->
<use href="#yt" transform="translate(0 499)"/>
<use href="#yt" transform="translate(0 1083)"/>
<use href="#yt" transform="translate(0 1667)"/>
<rect x="264" y="496.5" width="3603" height="5" fill="#000"/>
<rect x="264" y="1080.5" width="3603" height="5" fill="#000"/>
<rect x="264" y="1664.5" width="1356" height="5" fill="#000"/>
<use href="#xt40" transform="translate(0 499)"/>
<use href="#xt40" transform="translate(0 1083)"/>
<use href="#xt15" transform="translate(0 1667)"/>

<g class="ax" font-size="62" text-anchor="end">
<text x="212" y="521">0.0</text><text x="212" y="417">1.0</text><text x="212" y="312">2.0</text><text x="212" y="208">3.0</text><text x="212" y="104">4.0</text>
<text x="212" y="1105">0.0</text><text x="212" y="1001">1.0</text><text x="212" y="896">2.0</text><text x="212" y="792">3.0</text><text x="212" y="688">4.0</text>
<text x="212" y="1689">0.0</text><text x="212" y="1585">1.0</text><text x="212" y="1480">2.0</text><text x="212" y="1376">3.0</text><text x="212" y="1272">4.0</text>
</g>
<g class="ax" font-size="78" text-anchor="middle">
<text transform="translate(100 284) rotate(-90)">bits</text>
<text transform="translate(100 868) rotate(-90)">bits</text>
<text transform="translate(100 1452) rotate(-90)">bits</text>
</g>
<g class="ax" font-size="64" text-anchor="middle">
<text x="671" y="588">5</text><text x="1121" y="588">10</text><text x="1571" y="588">15</text><text x="2021" y="588">20</text><text x="2471" y="588">25</text><text x="2921" y="588">30</text><text x="3371" y="588">35</text><text x="3821" y="588">40</text>
<text x="671" y="1172">45</text><text x="1121" y="1172">50</text><text x="1571" y="1172">55</text><text x="2021" y="1172">60</text><text x="2471" y="1172">65</text><text x="2921" y="1172">70</text><text x="3371" y="1172">75</text><text x="3821" y="1172">80</text>
<text x="671" y="1756">85</text><text x="1121" y="1756">90</text><text x="1571" y="1756">95</text>
</g>
<text class="ax" x="3925" y="1820" font-size="44" text-anchor="end">WebLogo 3.4</text>
</svg>
</body></html>
